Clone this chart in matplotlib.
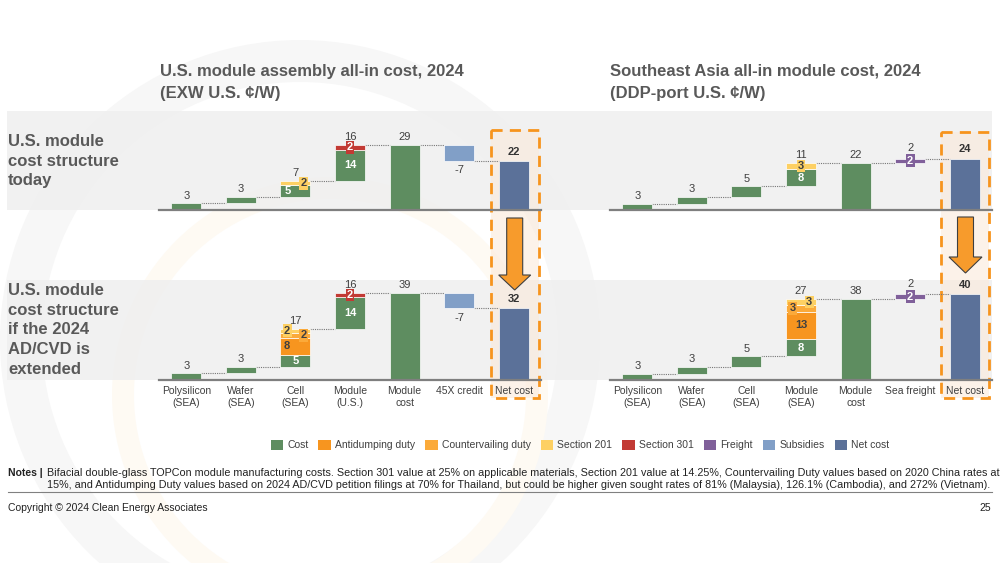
import matplotlib
matplotlib.use("Agg")
import matplotlib.pyplot as plt
from matplotlib.patches import Rectangle, Polygon, Wedge, Patch
from matplotlib import font_manager as fm

# ---------------- data ----------------
cats_us = ["Polysilicon\n(SEA)", "Wafer\n(SEA)", "Cell\n(SEA)", "Module\n(U.S.)", "Module\ncost", "45X credit", "Net cost"]
cats_sea = ["Polysilicon\n(SEA)", "Wafer\n(SEA)", "Cell\n(SEA)", "Module\n(SEA)", "Module\ncost", "Sea freight", "Net cost"]

# US today
us_today_cost = [3, 3, 5, 14]
us_today_ad = [0, 0, 0, 0]
us_today_cvd = [0, 0, 0, 0]
us_today_s201 = [0, 0, 2, 0]
us_today_s301 = [0, 0, 0, 2]
us_today_adj = -7

# US if AD/CVD extended
us_ext_cost = [3, 3, 5, 14]
us_ext_ad = [0, 0, 8, 0]
us_ext_cvd = [0, 0, 2, 0]
us_ext_s201 = [0, 0, 2, 0]
us_ext_s301 = [0, 0, 0, 2]
us_ext_adj = -7

# SEA today
sea_today_cost = [3, 3, 5, 8]
sea_today_ad = [0, 0, 0, 0]
sea_today_cvd = [0, 0, 0, 0]
sea_today_s201 = [0, 0, 0, 3]
sea_today_s301 = [0, 0, 0, 0]
sea_today_adj = 2

# SEA if AD/CVD extended
sea_ext_cost = [3, 3, 5, 8]
sea_ext_ad = [0, 0, 0, 13]
sea_ext_cvd = [0, 0, 0, 3]
sea_ext_s201 = [0, 0, 0, 3]
sea_ext_s301 = [0, 0, 0, 0]
sea_ext_adj = 2

legend_labels = ["Cost", "Antidumping duty", "Countervailing duty", "Section 201",
                 "Section 301", "Freight", "Subsidies", "Net cost"]

# ---------------- style ----------------
C_COST = "#5E8D60"
C_AD = "#F7951F"
C_CVD = "#FBAA3A"
C_201 = "#FDD063"
C_301 = "#C23A34"
C_FRT = "#80609A"
C_SUB = "#819FC7"
C_NET = "#5B7199"
legend_colors = [C_COST, C_AD, C_CVD, C_201, C_301, C_FRT, C_SUB, C_NET]
TXT = "#404040"
HEAD = "#595959"

plt.rcParams["font.family"] = ["Liberation Sans", "DejaVu Sans"]
narrow_ok = any(f.name == "Liberation Sans Narrow" for f in fm.fontManager.ttflist)
NOTE_FAM = ["Liberation Sans Narrow", "Liberation Sans"] if narrow_ok else ["Liberation Sans"]

W, H = 1000, 563
fig = plt.figure(figsize=(10, 5.63), dpi=100)
fig.patch.set_facecolor("white")
bg = fig.add_axes([0, 0, 1, 1])
bg.set_xlim(0, W)
bg.set_ylim(H, 0)
bg.axis("off")

# faint watermark rings
bg.add_patch(Wedge((300, 340), 300, 0, 360, width=42, fc="#f7f7f7", ec="none", zorder=0))
bg.add_patch(Wedge((330, 395), 218, 0, 360, width=22, fc="#fefaf3", ec="none", zorder=0))

# gray bands
bg.add_patch(Rectangle((7, 111), 985, 99, fc="#efefef", ec="none", alpha=0.85, zorder=1))
bg.add_patch(Rectangle((7, 280), 985, 100, fc="#efefef", ec="none", alpha=0.85, zorder=1))

# dashed highlight boxes
for x0, y0, x1, y1 in [(491, 130, 539, 398), (941, 132, 989, 398)]:
    bg.add_patch(Rectangle((x0, y0), x1 - x0, y1 - y0, fc="#fbeadb", ec="none", alpha=0.6, zorder=2))
    bg.add_patch(Rectangle((x0, y0), x1 - x0, y1 - y0, fc="none", ec="#F7941D", lw=2.0,
                           ls=(0, (4, 2.6)), zorder=6))

# arrows
def down_arrow(xc, top, head_start, tip, shaft_w, head_w):
    pts = [(xc - shaft_w / 2, top), (xc + shaft_w / 2, top), (xc + shaft_w / 2, head_start),
           (xc + head_w / 2, head_start), (xc, tip), (xc - head_w / 2, head_start),
           (xc - shaft_w / 2, head_start)]
    bg.add_patch(Polygon(pts, closed=True, fc="#F79B2C", ec="#3f3f3f", lw=0.8, zorder=5))

down_arrow(514.7, 218, 275, 290, 16, 32)
down_arrow(965.5, 217, 257, 273, 16, 33)

# titles
bg.text(160, 82.5, "U.S. module assembly all-in cost, 2024\n(EXW U.S. ¢/W)", fontsize=12,
        fontweight="bold", color=HEAD, va="center", ha="left", linespacing=1.6)
bg.text(610, 82.5, "Southeast Asia all-in module cost, 2024\n(DDP-port U.S. ¢/W)", fontsize=12,
        fontweight="bold", color=HEAD, va="center", ha="left", linespacing=1.6)

# row labels
bg.text(8, 161, "U.S. module\ncost structure\ntoday", fontsize=12, fontweight="bold",
        color=HEAD, va="center", ha="left", linespacing=1.39, zorder=3)
bg.text(8, 330, "U.S. module\ncost structure\nif the 2024\nAD/CVD is\nextended", fontsize=12,
        fontweight="bold", color=HEAD, va="center", ha="left", linespacing=1.39, zorder=3)

BW = 0.55


def panel(x0, x1, ybase, scale, cats, cost, ad, cvd, s201, s301, adj, show_cats, offs):
    n = len(cats)
    ax = fig.add_axes([x0 / W, 1 - ybase / H, (x1 - x0) / W, 100 / H])
    ax.set_xlim(-0.5, n - 0.5)
    ax.set_ylim(0, 100 / scale)
    ax.axis("off")
    ax.patch.set_alpha(0)
    segs = [(cost, C_COST, "white"), (ad, C_AD, TXT), (cvd, C_CVD, TXT),
            (s201, C_201, TXT), (s301, C_301, "white")]
    seg_names = ["cost", "ad", "cvd", "s201", "s301"]
    run = 0.0
    levels = []
    for i in range(len(cost)):
        start = run
        vals = [s[0][i] for s in segs]
        nz = sum(1 for v in vals if v)
        b = start
        for (arr, col, tc), nm in zip(segs, seg_names):
            v = arr[i]
            if not v:
                continue
            ax.bar(i, v, BW, bottom=b, color=col, ec="white", lw=0.5, zorder=3)
            if nz > 1:
                dx = offs.get((i, nm), 0.0)
                kw = dict(ha="center", va="center", fontsize=8, fontweight="bold", color=tc, zorder=5)
                if v < 4:
                    kw["bbox"] = dict(boxstyle="square,pad=0.12", fc=col, ec="none")
                ax.text(i + dx, b + v / 2, f"{v}", **kw)
            b += v
        run = b
        ax.annotate(f"{sum(vals)}", (i, run), xytext=(0, 2), textcoords="offset points",
                    ha="center", va="bottom", fontsize=8, color=TXT, zorder=5)
        levels.append((i, run))
    total = run
    im = len(cost)
    ax.bar(im, total, BW, color=C_COST, ec="white", lw=0.5, zorder=3)
    ax.annotate(f"{total:g}", (im, total), xytext=(0, 2), textcoords="offset points",
                ha="center", va="bottom", fontsize=8, color=TXT)
    levels.append((im, total))
    ia = im + 1
    net = total + adj
    if adj < 0:
        ax.bar(ia, -adj, BW, bottom=net, color=C_SUB, ec="white", lw=0.5, zorder=3)
        ax.annotate(f"{adj}", (ia, net), xytext=(0, -3), textcoords="offset points",
                    ha="center", va="top", fontsize=8, color=TXT)
        levels.append((ia, net))
    else:
        ax.bar(ia, adj, BW, bottom=total, color=C_FRT, ec="white", lw=0.5, zorder=3)
        ax.text(ia, total + adj / 2, f"{adj}", ha="center", va="center", fontsize=8,
                fontweight="bold", color="white", zorder=5,
                bbox=dict(boxstyle="square,pad=0.12", fc=C_FRT, ec="none"))
        ax.annotate(f"{adj}", (ia, total + adj), xytext=(0, 4), textcoords="offset points",
                    ha="center", va="bottom", fontsize=8, color=TXT)
        levels.append((ia, net))
    inet = ia + 1
    ax.bar(inet, net, BW, color=C_NET, ec="white", lw=0.5, zorder=3)
    ax.annotate(f"{net:g}", (inet, net), xytext=(0, 3), textcoords="offset points",
                ha="center", va="bottom", fontsize=8, fontweight="bold", color="#333333")
    # connectors
    for (i, lv) in levels:
        if adj > 0 and i == im:
            lv = total
        ax.plot([i + BW / 2, i + 1 - BW / 2], [lv, lv], color="#777777", lw=0.8,
                ls=(0, (1, 1)), zorder=2)
    ax.axhline(0, color="#7f7f7f", lw=1.6, zorder=4, clip_on=False)
    if show_cats:
        for i, c in enumerate(cats):
            ax.annotate(c, (i, 0), xytext=(0, -4), textcoords="offset points", ha="center",
                        va="top", fontsize=7.5, color=TXT, linespacing=1.3, annotation_clip=False)
    return ax


panel(159, 541, 210, 2.235, cats_us, us_today_cost, us_today_ad, us_today_cvd, us_today_s201,
      us_today_s301, us_today_adj, False, {(2, "cost"): -0.15, (2, "s201"): 0.15})
panel(159, 541, 380, 2.235, cats_us, us_ext_cost, us_ext_ad, us_ext_cvd, us_ext_s201,
      us_ext_s301, us_ext_adj, True, {(2, "ad"): -0.15, (2, "cvd"): 0.15, (2, "s201"): -0.15})
panel(610, 992, 210, 2.14, cats_sea, sea_today_cost, sea_today_ad, sea_today_cvd, sea_today_s201,
      sea_today_s301, sea_today_adj, False, {})
panel(610, 992, 380, 2.14, cats_sea, sea_ext_cost, sea_ext_ad, sea_ext_cvd, sea_ext_s201,
      sea_ext_s301, sea_ext_adj, True, {(3, "cvd"): -0.15, (3, "s201"): 0.15})

# legend
handles = [Patch(fc=c, ec="none") for c in legend_colors]
fig.legend(handles, legend_labels, loc="center", bbox_to_anchor=(0.58, 1 - 445 / H), ncol=8,
           frameon=False, fontsize=7.5, handlelength=1.2, handleheight=1.2, handletextpad=0.4,
           columnspacing=0.95, labelcolor=TXT)

# notes
note1 = ("Bifacial double-glass TOPCon module manufacturing costs. Section 301 value at 25% on applicable "
         "materials, Section 201 value at 14.25%, Countervailing Duty values based on 2020 China rates at")
note2 = ("15%, and Antidumping Duty values based on 2024 AD/CVD petition filings at 70% for Thailand, but "
         "could be higher given sought rates of 81% (Malaysia), 126.1% (Cambodia), and 272% (Vietnam).")
bg.text(8, 473, "Notes |", fontsize=7.5, fontweight="bold", family=NOTE_FAM, color="#222222",
        va="center", ha="left")
t1 = bg.text(47, 473, note1, fontsize=7.5, family=NOTE_FAM, color="#222222", va="center", ha="left")
t2 = bg.text(47, 485.5, note2, fontsize=7.5, family=NOTE_FAM, color="#222222", va="center", ha="left")
r = fig.canvas.get_renderer()
w1 = t1.get_window_extent(r).width
fs = 7.5 * 941 / w1
t1.set_fontsize(fs)
t2.set_fontsize(fs)
bg.plot([8, 992], [491.5, 491.5], color="#808080", lw=0.8)
bg.text(8, 508, "Copyright © 2024 Clean Energy Associates", fontsize=7.5, color="#222222",
        va="center", ha="left")
bg.text(991, 508, "25", fontsize=7.5, color="#222222", va="center", ha="right")

fig.savefig("out.png", dpi=100, facecolor="white")
